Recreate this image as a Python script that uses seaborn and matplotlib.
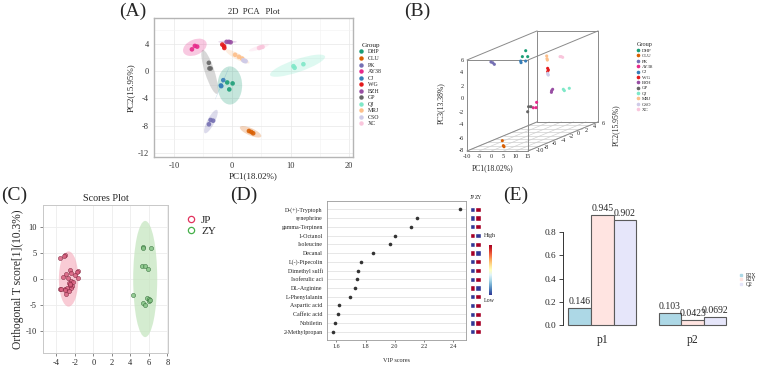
import numpy as np
import pandas as pd
import seaborn as sns
import matplotlib
matplotlib.use('Agg')
import matplotlib.pyplot as plt
from matplotlib.patches import Ellipse
from matplotlib.lines import Line2D
from matplotlib.cm import ScalarMappable
from matplotlib.colors import Normalize

W, H = 764, 369

# ---- (A) 2D PCA ----
groups = ['DHP', 'CLU', 'PK', 'AY38', 'CJ', 'WG', 'BZH', 'GP', 'QJ', 'MRJ', 'CSO', 'XC']
group_colors = ['#1B9E77', '#D95F02', '#7570B3', '#E7298A', '#377EB8', '#E41A1C',
                '#984EA3', '#666666', '#7FE8C8', '#FDBF8A', '#CFCBE8', '#F9C6DC']
sample_group = [g for g in groups for _ in range(3)]
pca_pc1 = [-0.85, 0.07, -0.5,   2.87, 3.27, 3.6,   -3.7, -3.27, -3.99,  -6.4, -6.0, -6.9,
           -1.53, -1.87, -1.95, -1.7, -1.4, -1.35,  -0.96, -0.56, -0.27, -4.0, -3.7, -3.9,
           10.5, 10.7, 12.2,    0.5, 1.15, 1.7,     1.9, 2.3, 2.1,       4.6, 5.2, 4.9]
pca_pc2 = [-1.66, -1.8, -2.68,  -8.78, -8.93, -9.12, -7.17, -7.27, -7.8, 3.7, 3.6, 3.2,
           -1.32, -2.2, -2.1,   3.9, 3.66, 3.4,     4.3, 4.3, 4.24,      1.22, 0.39, 0.4,
           0.73, 0.49, 1.02,    2.4, 2.1, 1.85,     1.6, 1.46, 1.5,      3.4, 3.56, 3.5]
# confidence ellipses: centre, width, height, angle
ell_cx = [-0.4, 3.15, -3.65, -6.4, -1.75, -1.55, -0.8, -3.85, 11.2, 0.9, 2.1, 4.6]
ell_cy = [-2.1, -8.9, -7.4, 3.5, -1.83, 3.65, 4.3, -0.1, 0.8, 2.15, 1.53, 3.45]
ell_w = [4.2, 3.9, 4.0, 4.2, 5.3, 1.0, 3.2, 6.9, 9.8, 4.5, 1.0, 3.6]
ell_h = [5.6, 1.1, 1.2, 2.3, 0.12, 0.4, 0.35, 1.6, 1.9, 0.9, 0.4, 0.6]
ell_ang = [0, -20, 58, 18, 63, -45, 0, -69, 16, -25, -20, 15]

# ---- (B) 3D PCA ----
pca3_pc1 = [-1.67, -1.35, -0.68,  0.76, 1.35, 1.95,  -6.6, -4.2, -5.7,  -6.33, -7.53, -5.72,
            -4.4, -0.85, -3.07,   -2.15, -1.45, -1.3, -0.78, -1.18, -1.18, -5.38, -3.15, -4.5,
            9.64, 10.47, 11.6,    0.0, 0.78, 1.05,   1.75, 2.25, 2.0,   3.78, 4.58, 4.13]
pca3_pc2 = [-1.7, -2.7, -1.8,  -8.8, -8.9, -9.1,  -7.2, -7.8, -7.3,  3.7, 3.6, 3.2,
            -1.3, -2.2, -2.0,  3.9, 3.66, 3.4,    4.3, 4.3, 4.24,    1.2, 0.45, 0.45,
            0.73, 0.49, 1.02,  2.4, 2.1, 1.85,    1.6, 1.46, 1.5,    3.4, 3.56, 3.5]
pca3_pc3 = [4.98, 4.33, 4.09,  -6.99, -7.73, -7.84,  4.69, 4.49, 4.6,  -4.39, -5.19, -5.07,
            3.28, 3.52, 3.22,  0.79, 0.6, 0.41,     -2.54, -2.75, -2.99, -4.4, -4.2, -4.98,
            -1.6, -1.74, -1.52, 3.09, 2.54, 2.82,   0.64, 0.4, 0.5,     2.72, 2.57, 2.7]

# ---- (C) OPLS-DA scores ----
jp_t = [-3.6, -3.1, -3.15, -1.7, -1.75, -2.5, -2.45, -2.0, -1.7, -3.3, -3.0, -2.75, -2.4,
        -2.6, -2.2, -2.25, -3.6, -3.5, -3.1, -2.8, -2.4, -2.9, -3.1, -2.6, -2.5, -2.55]
jp_to = [4.0, 4.6, 4.4, 1.6, 1.3, 1.7, 1.2, 0.8, 0.2, 0.4, 1.0, 0.1, -0.3,
         -0.8, -0.5, -1.35, -1.9, -2.0, -1.9, -1.7, -1.8, -2.9, -2.2, -2.3, -1.2, -0.9]
zy_t = [5.35, 5.4, 6.2, 5.25, 5.6, 5.95, 4.3, 5.35, 5.6, 5.8, 6.0, 6.05, 6.15]
zy_to = [6.2, 6.0, 6.0, 2.5, 2.4, 2.0, -3.15, -4.55, -4.9, -3.65, -3.9, -4.2, -4.05]

# ---- (D) VIP ----
vip_names = ['D-(+)-Tryptoph', 'synephrine', 'gamma-Terpinen', '1-Octanol', 'Isoleucine',
             'Decanal', 'L(-)-Pipecolin', 'Dimethyl sulfi', 'Isoferulic aci', 'DL-Arginine',
             'L-Phenylalanin', 'Aspartic acid', 'Caffeic acid', 'Nobiletin', '2-Methylpropan']
vip_scores = [2.446, 2.15, 2.11, 2.0, 1.97, 1.85, 1.77, 1.745, 1.74, 1.73, 1.69, 1.615,
              1.61, 1.59, 1.575]
heat_jp = [-1, -1, -1, 1, -1, 1, -1, -1, -1, 1, -1, -1, -1, -1, -1]
heat_zy = [1, 1, 1, -1, 1, -1, 1, 1, 1, -1, 1, 1, 1, 1, 1]

# ---- (E) model quality ----
components = ['p1', 'p2']
r2x = [0.146, 0.103]
r2y = [0.945, 0.0423]
q2 = [0.902, 0.0692]

sns.set_theme(style='white')
plt.rcParams['font.family'] = ['Liberation Serif', 'DejaVu Serif']
plt.rcParams['axes.unicode_minus'] = False


def px_axes(fig, l, t, r, b):
    return fig.add_axes([l / W, 1 - b / H, (r - l) / W, (b - t) / H])


def ftext(fig, x, y, s, **kw):
    fig.text(x / W, 1 - y / H, s, **kw)


fig = plt.figure(figsize=(W / 100, H / 100), dpi=100)
pal = dict(zip(groups, group_colors))

# (A)
dfA = pd.DataFrame({'Group': sample_group, 'PC1': pca_pc1, 'PC2': pca_pc2})
axA = px_axes(fig, 154, 18, 353, 157)
for i, g in enumerate(groups):
    axA.add_patch(Ellipse((ell_cx[i], ell_cy[i]), ell_w[i], ell_h[i], angle=ell_ang[i],
                          facecolor=pal[g], alpha=0.25, edgecolor='none', zorder=2))
sns.scatterplot(data=dfA, x='PC1', y='PC2', hue='Group', palette=pal, s=11,
                edgecolor='none', alpha=0.9, legend=False, ax=axA, zorder=3)
axA.set_xlim(-13.4, 20.7)
axA.set_ylim(-12.6, 7.8)
axA.set_xticks([-10, 0, 10, 20])
axA.set_yticks([-12, -8, -4, 0, 4])
axA.set_xticks([-5, 5, 15], minor=True)
axA.set_yticks([-10, -6, -2, 2, 6], minor=True)
axA.grid(True, which='major', color='#E8E8E8', lw=0.5)
axA.grid(True, which='minor', color='#F2F2F2', lw=0.4)
axA.set_axisbelow(True)
for s in axA.spines.values():
    s.set_color('#B5B5B5')
    s.set_linewidth(1.0)
axA.tick_params(labelsize=6, length=2, width=0.5, color='#B5B5B5', pad=1.5, labelcolor='#333333')
axA.tick_params(which='minor', length=0)
axA.set_xlabel('PC1(18.02%)', fontsize=6.5, labelpad=2)
axA.set_ylabel('PC2(15.95%)', fontsize=6.5, labelpad=2)
axA.set_title('2D  PCA   Plot', fontsize=6.2, pad=3)
handles = [Line2D([], [], marker='o', ls='', ms=2.2, color=c) for c in group_colors]
axA.legend(handles, groups, title='Group', loc='upper left', bbox_to_anchor=(356 / W, 1 - 40 / H),
           bbox_transform=fig.transFigure, frameon=False, fontsize=4.2, title_fontsize=5.2,
           labelspacing=0.25, handletextpad=0.8, handlelength=0.8, borderpad=0)

# (B) oblique 3D projection, like scatterplot3d
P2MIN, P2MAX = -11, 6
DU, DV = 1.15, 0.32


def project(p1, p2, p3):
    d = (np.asarray(p2, float) - P2MIN) / (P2MAX - P2MIN)
    u = (np.asarray(p1, float) + 10) / 25 + DU * d
    v = (np.asarray(p3, float) + 8) / 14 + DV * d
    return u, v


axB = px_axes(fig, 440, 20, 665, 175)
axB.set_xlim((440 - 467) / 61, (665 - 467) / 61)
axB.set_ylim((151 - 175) / 91, (151 - 20) / 91)
axB.axis('off')
for p1 in [-10, -5, 0, 5, 10, 15]:
    u, v = project([p1, p1], [P2MIN, P2MAX], [-8, -8])
    axB.plot(u, v, color='#D0D0D0', lw=0.5, zorder=1)
for p2 in range(-10, 7, 2):
    u, v = project([-10, 15], [p2, p2], [-8, -8])
    axB.plot(u, v, color='#D0D0D0', lw=0.5, zorder=1)
corners = [(a, b, c) for a in (-10, 15) for b in (P2MIN, P2MAX) for c in (-8, 6)]
for i, c1 in enumerate(corners):
    for c2 in corners[i + 1:]:
        if sum(x != y for x, y in zip(c1, c2)) == 1:
            u, v = project([c1[0], c2[0]], [c1[1], c2[1]], [c1[2], c2[2]])
            axB.plot(u, v, color='#8A8A8A', lw=0.7, zorder=2)
dfB = pd.DataFrame({'Group': sample_group, 'PC1': pca3_pc1, 'PC2': pca3_pc2, 'PC3': pca3_pc3})
dfB['u'], dfB['v'] = project(dfB['PC1'], dfB['PC2'], dfB['PC3'])
sns.scatterplot(data=dfB, x='u', y='v', hue='Group', palette=pal, s=5, edgecolor='none',
                legend=False, ax=axB, zorder=3)
for p1 in [-10, -5, 0, 5, 10, 15]:
    axB.annotate(str(p1), project(p1, P2MIN, -8), xytext=(0, -2.5), textcoords='offset points',
                 ha='center', va='top', fontsize=4.5)
for p3 in range(-8, 7, 2):
    axB.annotate(str(p3), project(-10, P2MIN, p3), xytext=(-2.5, 0), textcoords='offset points',
                 ha='right', va='center', fontsize=4.5)
for p2 in range(-10, 7, 2):
    axB.annotate(str(p2), project(15, p2, -8), xytext=(2.5, -1), textcoords='offset points',
                 ha='left', va='center', fontsize=4.5)
ftext(fig, 493, 168, 'PC1(18.02%)', fontsize=5.5, ha='center', va='center')
ftext(fig, 441, 103, 'PC3(13.38%)', fontsize=5.5, ha='center', va='center', rotation=90)
ftext(fig, 616, 125, 'PC2(15.95%)', fontsize=5.5, ha='center', va='center', rotation=90)
handles = [Line2D([], [], marker='o', ls='', ms=1.6, color=c) for c in group_colors]
axB.legend(handles, groups, title='Group', loc='upper left', bbox_to_anchor=(634 / W, 1 - 40 / H),
           bbox_transform=fig.transFigure, frameon=False, fontsize=3.5, title_fontsize=4.4,
           labelspacing=0.2, handletextpad=0.5, handlelength=0.6, borderpad=0)

# (C)
axC = px_axes(fig, 43, 205, 168, 353)
axC.add_patch(Ellipse((np.mean(jp_t), 0), 2.1, 10.6, facecolor='#F5A9BA', alpha=0.6,
                      edgecolor='none', zorder=1))
axC.add_patch(Ellipse((np.mean(zy_t), 0), 2.6, 22.3, facecolor='#C3E5BD', alpha=0.7,
                      edgecolor='none', zorder=1))
sns.scatterplot(x=jp_t, y=jp_to, color='#D9607F', s=9, edgecolor='#7A2038', linewidth=0.4,
                alpha=0.85, ax=axC, zorder=3)
sns.scatterplot(x=zy_t, y=zy_to, color='#86C486', s=9, edgecolor='#2F6A35', linewidth=0.4,
                alpha=0.85, ax=axC, zorder=3)
axC.set_xlim(-5.44, 8.08)
axC.set_ylim(-14.2, 14.2)
axC.set_xticks([-4, -2, 0, 2, 4, 6, 8])
axC.set_yticks([-10, -5, 0, 5, 10])
axC.grid(True, color='#EDEDED', lw=0.6)
axC.set_axisbelow(True)
for s in axC.spines.values():
    s.set_color('#C8C8C8')
    s.set_linewidth(0.7)
axC.tick_params(labelsize=6, length=2.5, width=0.5, color='#555555', pad=2, left=True, bottom=True)
axC.set_ylabel('Orthogonal T score[1](10.3%)', fontsize=8.3, labelpad=1)
axC.set_title('Scores Plot', fontsize=7.3, pad=3)
handles = [Line2D([], [], marker='o', ls='', ms=4.5, mfc='none', mec=c, mew=0.9)
           for c in ['#E2335E', '#45B04A']]
axC.legend(handles, ['JP', 'ZY'], loc='upper left', bbox_to_anchor=(180 / W, 1 - 210 / H),
           bbox_transform=fig.transFigure, frameon=False, fontsize=8, labelspacing=0.1,
           handletextpad=0.4, handlelength=1.0, borderpad=0)

# (D)
axD = px_axes(fig, 327, 201, 466, 340)
sns.stripplot(x=vip_scores, y=vip_names, orient='h', jitter=False, color='#333333', size=2.6,
              ax=axD, zorder=3)
axD.set_xlim(1.536, 2.487)
axD.set_ylim(14.95, -0.95)
axD.set_xticks([1.6, 1.8, 2.0, 2.2, 2.4])
axD.grid(True, axis='y', color='#E3E3E3', lw=0.6)
axD.set_axisbelow(True)
for s in axD.spines.values():
    s.set_color('#9A9A9A')
    s.set_linewidth(0.6)
axD.tick_params(labelsize=4.3, length=1.5, width=0.4, pad=1.5, bottom=True, left=False)
axD.set_xlabel('VIP scores', fontsize=4.5, labelpad=6)

axH = px_axes(fig, 469.5, 201, 481, 340)
cmap = plt.get_cmap('RdYlBu_r')
norm = Normalize(-1, 1)
rows = np.arange(len(vip_names))
axH.barh(rows, 0.94, left=0, height=0.6, color=cmap(norm(heat_jp)))
axH.barh(rows, 0.94, left=1.03, height=0.6, color=cmap(norm(heat_zy)))
axH.set_ylim(14.95, -0.95)
axH.set_xlim(0, 2)
axH.set_yticks([])
axH.xaxis.tick_top()
axH.set_xticks([0.5, 1.5], ['JP', 'ZY'])
axH.tick_params(axis='x', length=0, labelsize=4, pad=0.5)
for s in axH.spines.values():
    s.set_visible(False)
cax = px_axes(fig, 488.5, 245, 492, 295)
cb = fig.colorbar(ScalarMappable(norm=norm, cmap=cmap), cax=cax)
cb.outline.set_visible(False)
cb.set_ticks([])
ftext(fig, 490, 236, 'High', fontsize=4.3, ha='center', va='center')
ftext(fig, 489, 301, 'Low', fontsize=4.3, ha='center', va='center')

# (E)
dfE = pd.DataFrame({'component': components * 3, 'value': r2x + r2y + q2,
                    'metric': ['R2X'] * 2 + ['R2Y'] * 2 + ['Q2'] * 2})
e_colors = ['#ADD8E6', '#FFE4E1', '#E6E6FA']
axE = px_axes(fig, 563, 205, 735, 330)
sns.barplot(data=dfE, x='component', y='value', hue='metric', palette=e_colors, width=0.75,
            edgecolor='#5A5A5A', linewidth=0.8, saturation=1, legend=False, ax=axE)
for cont in axE.containers:
    axE.bar_label(cont, fmt='%g', padding=1.5, fontsize=7)
axE.set_ylim(-0.04, 1.028)
axE.set_xlim(-0.435, 1.47)
axE.set_yticks([0, 0.2, 0.4, 0.6, 0.8], ['0.0', '0.2', '0.4', '0.6', '0.8'])
for k in ['top', 'right', 'bottom']:
    axE.spines[k].set_visible(False)
axE.spines['left'].set_bounds(0, 0.8)
axE.spines['left'].set_color('#333333')
axE.spines['left'].set_linewidth(0.7)
axE.tick_params(axis='y', labelsize=6.7, length=3, width=0.6, pad=2, left=True)
axE.tick_params(axis='x', labelsize=8.4, length=0, pad=3)
axE.set_xlabel('')
axE.set_ylabel('')
handles = [Line2D([], [], marker='s', ls='', ms=1.5, color=c) for c in e_colors]
axE.legend(handles, ['R2X', 'R2Y', 'Q2'], loc='upper left', bbox_to_anchor=(737 / W, 1 - 270 / H),
           bbox_transform=fig.transFigure, frameon=False, fontsize=4, labelspacing=-0.1,
           handletextpad=0.6, handlelength=0.5, borderpad=0)

# panel letters
for lab, x, y in [('(A)', 133, 11), ('(B)', 417, 11), ('(C)', 14, 195), ('(D)', 244, 195),
                  ('(E)', 516, 195)]:
    ftext(fig, x, y, lab, fontsize=14, ha='center', va='center')

fig.savefig('out.png', dpi=100)
